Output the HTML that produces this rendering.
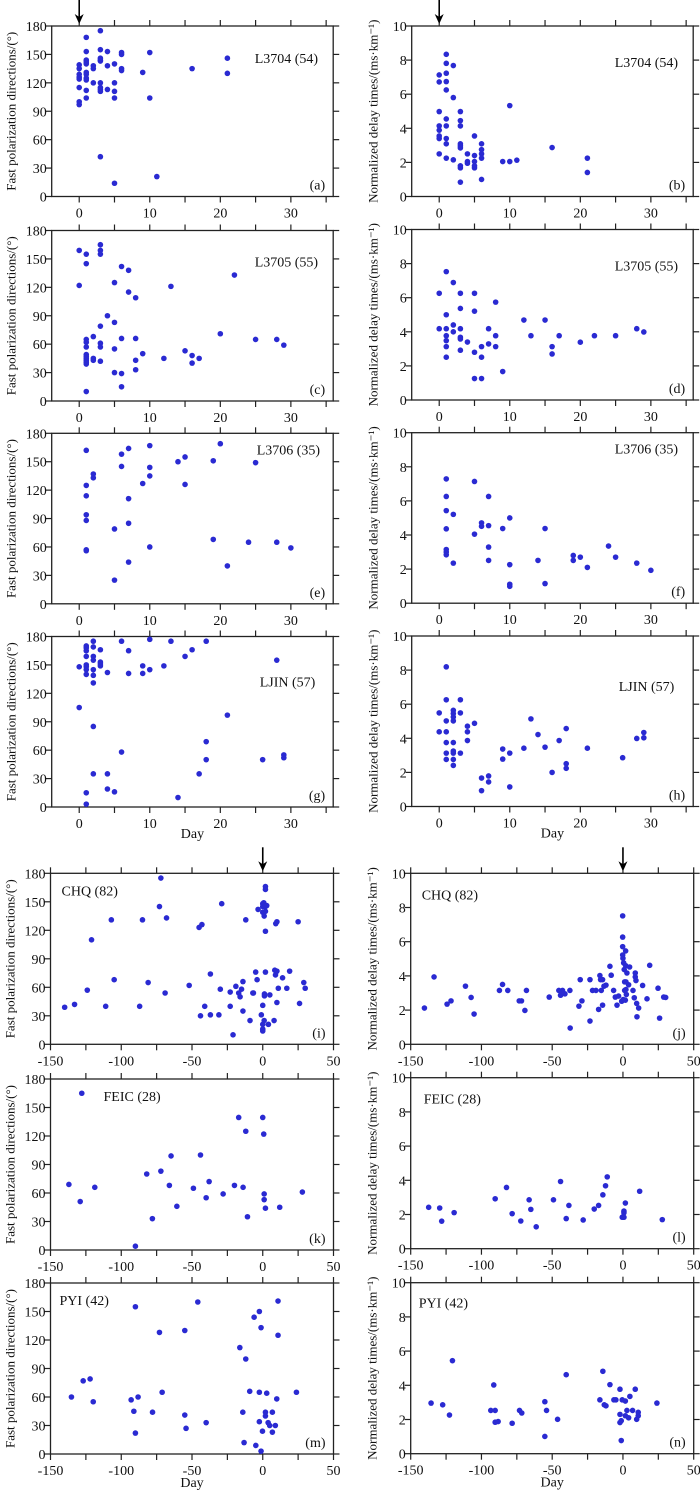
<!DOCTYPE html>
<html><head><meta charset="utf-8"><title>Shear-wave splitting time series</title>
<style>
html,body{margin:0;padding:0;background:#fff;}
svg{display:block;font-family:"Liberation Serif",serif;}
</style></head>
<body>
<svg id="fig" width="700" height="1503" viewBox="0 0 700 1503" xmlns="http://www.w3.org/2000/svg"></svg>
<script>
// ---------- data (day, value) ----------
const aX=[0,0,0,0,0,0,0,0,1,1,1,1,1,1,1,1,1,1,1,2,2,2,3,3,3,3,3,3,3,3,3,3,4,4,4,5,5,5,5,5,6,6,6,6,9,10,10,11,16,21,21];
const aY=[139,135,129,126,124,115,100,97,168,153,144,142,140,131,129,125,123,112,104,138,135,120,175,155,146,144,143,120,115,113,111,42,153,138,113,140,120,111,104,14,152,150,135,133,131,152,104,21,135,146,130];
const bX=[0,0,0,0,0,0,0,0,1,1,1,1,1,1,1,1,1,1,2,2,2,3,3,3,3,3,3,3,3,3,4,4,4,5,5,5,5,5,6,6,6,6,6,9,10,10,11,16,21,21];
const bY=[7.13,6.72,4.98,4.14,3.89,3.55,3.4,2.5,8.34,7.81,7.23,6.74,6.25,4.55,4.14,3.4,3.09,2.25,7.68,5.8,2.15,4.98,4.45,4.14,3.09,2.97,2.85,1.8,1.68,0.84,2.5,2.05,1.95,3.55,2.4,2.05,1.8,1.68,3.09,2.75,2.5,2.25,1.0,2.05,5.33,2.05,2.13,2.87,2.25,1.41];
const cX=[0,0,1,1,1,1,1,1,1,1,1,1,1,1,2,2,2,3,3,3,3,3,3,3,4,5,5,5,5,6,6,6,6,7,7,8,8,8,8,9,12,13,15,16,16,17,20,22,25,28,29];
const cY=[159,122,155,145,65,62,57,49,47,45,43,41,39,10,68,45,43,165,159,155,79,61,57,42,90,125,83,55,30,142,66,29,15,138,115,109,66,43,33,50,45,121,53,48,40,45,71,133,65,65,59];
const dX=[0,0,1,1,1,1,1,1,1,2,2,2,3,3,3,3,3,3,4,5,5,5,5,6,6,6,7,7,8,8,8,9,12,13,15,16,16,17,20,22,25,28,29];
const dY=[6.26,4.18,7.53,5.0,4.18,3.77,3.48,3.13,2.51,6.89,4.4,4.0,6.26,5.37,4.18,3.68,3.58,2.92,3.4,6.26,5.21,2.8,1.26,3.13,2.51,1.26,4.18,3.29,5.74,3.77,3.13,1.67,4.69,3.77,4.69,3.13,2.7,3.77,3.39,3.77,3.77,4.18,3.99];
const eX=[1,1,1,1,1,1,1,2,2,5,5,6,6,7,7,7,7,9,10,10,10,10,14,15,15,19,19,20,21,24,25,28,30];
const eY=[162,125,114,94,88,57,56,137,133,79,25,158,145,164,111,85,44,127,167,144,135,60,150,155,126,151,68,169,40,65,149,65,59];
const fX=[1,1,1,1,1,1,1,2,2,5,5,6,6,7,7,7,7,9,10,10,10,10,14,15,15,19,19,20,21,24,25,28,30];
const fY=[7.29,6.26,5.43,4.36,3.15,3.0,2.84,5.21,2.35,7.14,4.05,4.71,4.51,6.26,4.55,3.29,2.51,4.38,5.0,2.26,1.11,0.99,2.51,4.38,1.15,2.8,2.51,2.7,2.1,3.35,2.7,2.35,1.93];
const gX=[0,0,1,1,1,1,1,1,1,1,1,1,2,2,2,2,2,2,2,2,2,3,3,3,3,4,4,4,5,6,6,7,7,9,9,10,10,12,13,14,15,16,17,18,18,18,21,26,28,29,29];
const gY=[148,105,170,168,165,159,150,148,145,140,15,3,175,169,159,155,145,139,131,85,35,166,153,151,149,142,35,19,16,175,58,165,141,149,141,177,145,149,175,10,159,166,35,175,69,50,97,50,155,55,52];
const hX=[0,0,1,1,1,1,1,1,1,2,2,2,2,2,2,2,2,2,3,3,3,4,4,4,5,6,6,7,7,9,9,10,10,12,13,14,15,16,17,18,18,18,21,26,28,29,29];
const hY=[5.49,4.38,8.19,6.26,5.02,4.38,3.75,3.13,2.76,5.64,5.45,5.25,5.02,3.75,3.25,3.13,2.76,2.41,6.26,5.49,3.13,4.71,4.38,3.87,4.88,1.67,0.93,1.79,1.44,3.37,2.78,3.13,1.15,3.42,5.14,4.22,3.48,2.0,3.87,4.57,2.51,2.24,3.42,2.86,3.99,4.34,4.03];
const iX=[-140,-133,-124,-121,-111,-107,-105,-87,-85,-81,-72,-73,-69,-68,-52,-45,-43,-41,-37,-30,-29,-23,-23,-19,-17,-16,-15,-14,-12,-7,-6.6,-5,-4,-3.3,0,0,0,0,0.7,1,1.2,1.2,1.9,1.9,1.9,1.9,1.9,1.9,2.8,5,8.5,9,9.2,10,10,11,10,14,17,19,25,26,29,30,-44,-37,-31,-21,-9,-14,-1,0,0,0,1,4,8];
const iY=[39,42,57,110,40,131,68,40,131,65,175,145,54,133,62,123,126,40,74,58,148,40,55,61,54,50,58,66,131,54,54,76,68,142,148,145,139,41,149,135,51,53,166,163,145,140,119,76,146,52,78,73,127,129,44,59,77,70,59,77,129,43,65,59,30,31,31,10,25,35,31,21,14,16,25,21,25];
const jX=[-140.3,-133.5,-124.3,-121.5,-111.3,-107.3,-105.2,-87.3,-85.1,-81.4,-73.3,-71.7,-69.3,-68.2,-52.1,-45.3,-44.1,-42.7,-41,-37.5,-37.3,-31.1,-30.2,-29,-23.3,-23.3,-21.5,-19.1,-17.2,-16.3,-15.8,-15.3,-14.4,-14.4,-13.4,-12,-9.2,-8.3,-6.6,-5.4,-4.2,-3.1,-0.9,-0.2,-0.2,-0.2,-0.2,0,0.5,0.9,1.2,1.2,1.7,1.9,1.9,2.1,2.1,2.4,2.8,4,4.7,7.1,8,8.7,8.7,9.2,9.7,9.9,11.1,13.9,17,18.9,24.8,25.9,28.8,30.2,0.2];
const jY=[2.12,3.94,2.35,2.54,3.4,2.74,1.77,3.15,3.5,3.15,2.54,2.54,1.98,3.15,2.76,3.15,2.87,3.15,2.95,3.15,0.95,2.23,3.78,2.54,3.78,1.36,3.15,3.15,2.04,4.02,3.78,3.15,2.29,3.78,3.4,3.46,4.56,4.04,3.15,2.76,2.29,2.82,2.52,7.51,6.27,5.71,5.22,5.03,4.76,4.37,3.65,3.15,2.58,5.46,4.6,3.65,3.2,2.91,4.17,3.48,4.52,3.15,2.72,4.17,3.94,3.73,2.39,1.61,2.12,3.44,2.66,4.62,3.28,1.53,2.76,2.74,2.62];
const kX=[-127.9,-137,-129,-118.7,-90,-82,-78,-72,-66,-64.8,-60.7,-49,-44,-40,-37.9,-28,-20,-17,-13.9,-12,-10.8,0,0.7,1,1,1.9,12,28];
const kY=[165,69,51,66,4,80,33,83,68,99,46,65,100,55,72,59,68,139.5,66,125,35,139.5,122,59,53,44,45,61];
const lX=[-137.3,-129.5,-128.1,-119.3,-90.3,-82.3,-78.3,-72.2,-66.3,-65.1,-61.3,-49.1,-44.1,-40.1,-38.2,-28.1,-20.3,-17.2,-14.2,-12.3,-11.1,-0.5,0.7,0.7,0.7,1.7,11.8,27.8];
const lY=[2.42,2.38,1.61,2.11,2.92,3.58,2.05,1.62,2.86,2.3,1.28,2.86,3.93,1.76,2.53,1.68,2.32,2.53,3.15,3.68,4.2,1.84,1.84,2.2,2.1,2.67,3.36,1.7];
const mX=[-135.2,-126.9,-122,-119.8,-93,-91.1,-90,-90,-88.1,-77.9,-73,-71.1,-55.1,-55.1,-54.2,-45.9,-40,-16.2,-14.1,-13.2,-12,-9.2,-6.1,-4.9,-2.4,-2.4,-2.4,-1.2,-1.2,-0.2,1.9,1.9,2.8,3.8,4.9,6.8,6.8,8.9,9.9,10.8,10.8,23.8];
const mY=[60,77,79,55,57,45,155,22,60,44,128,65,130,41,27,160,33,112,44,12,100,66,144,9,150,65,34,133,3,24,44,40,64,33,30,44,23,30,58,161,125,65];
const nX=[-135.6,-127.4,-122.6,-120.5,-93.4,-91.3,-90.3,-90.3,-88.2,-78.3,-73.1,-71.5,-55.2,-55.2,-54,-46.2,-40.1,-16.3,-14.2,-13.2,-12,-9.2,-6.4,-5,-2.1,-2.1,-2.1,-1.2,-1.2,-0.5,1.7,1.7,2.8,4,4.9,6.8,8.7,9.7,10.8,10.8,24];
const nY=[2.96,2.86,2.26,5.44,2.53,4.02,2.53,1.84,1.88,1.78,2.53,2.38,3.04,1.01,2.53,2.01,4.62,3.15,4.82,2.86,2.8,4.04,3.15,3.15,3.77,2.3,1.82,1.93,0.77,3.15,3.08,2.22,2.53,2.1,3.35,2.53,3.77,2.01,2.42,2.22,2.96];
// ---------- axis definitions ----------
const upperXTicks=[0,5,10,15,20,25,30,35];
const upperXLabels=[0,10,20,30];
const lowerXTicks=[-150,-125,-100,-75,-50,-25,0,25,50];
const lowerXLabels=[-150,-100,-50,0,50];
const phiTicks=[0,30,60,90,120,150,180];
const dtTicks=[0,2,4,6,8,10];

const NS="http://www.w3.org/2000/svg";
const svg=document.getElementById('fig');
function mk(tag,attrs,parent){const e=document.createElementNS(NS,tag);for(const k in attrs)e.setAttribute(k,attrs[k]);(parent||svg).appendChild(e);return e;}

function panel(p){
  const g=mk('g',{});
  
  
  const L=p.left,T=p.top,W=p.w,H=p.h;
  const sx=v=>L+(v-p.xmin)/(p.xmax-p.xmin)*W;
  const sy=v=>T+H-(v-p.ymin)/(p.ymax-p.ymin)*H;
  const frame=mk('rect',{x:L,y:T,width:W,height:H,fill:'none',stroke:'#222','stroke-width':1.3},g);
  
  
  const tk=6;
  p.xticks.forEach(v=>{const x=sx(v);
    mk('line',{x1:x,y1:T+H,x2:x,y2:T+H+tk,stroke:'#222','stroke-width':1.2},g);
    mk('line',{x1:x,y1:T,x2:x,y2:T-tk,stroke:'#222','stroke-width':1.2},g);});
  p.yticks.forEach(v=>{const y=sy(v);
    mk('line',{x1:L,y1:y,x2:L-tk,y2:y,stroke:'#222','stroke-width':1.2},g);
    mk('line',{x1:L+W,y1:y,x2:L+W+tk,y2:y,stroke:'#222','stroke-width':1.2},g);
    const t=mk('text',{x:L-5,y:y+5,'text-anchor':'end','font-size':14,fill:'#111'},g);t.textContent=v;
    
    });
  if(p.showX){p.xlabels.forEach(v=>{const t=mk('text',{x:sx(v),y:T+H+21,'text-anchor':'middle','font-size':14,fill:'#111'},g);t.textContent=v;
    
    });}
  const cx=L-36-(p.titleOff||0), cy=T+H/2;
  const yt=mk('text',{x:cx,y:cy,'text-anchor':'middle','font-size':13,fill:'#111',transform:`rotate(-90 ${cx} ${cy})`},g);
  yt.textContent=p.ytitle;
  
  
  const st=mk('text',{x:L+p.sdx,y:T+p.sdy,'font-size':14,fill:'#111'},g);st.textContent=p.station;
  
  
  const lt=mk('text',{x:L+W-8,y:T+H-7,'text-anchor':'end','font-size':14,fill:'#111'},g);lt.textContent='('+p.letter+')';
  
  
  if(p.day){const d=mk('text',{x:L+W/2,y:T+H+p.day,'text-anchor':'middle','font-size':14,fill:'#111'},g);d.textContent='Day';
    
    }
  if(p.arrow){const x=sx(0);
    const a=mk('g',{},g);
    
    
    mk('line',{x1:x,y1:T-26,x2:x,y2:T-6,stroke:'#000','stroke-width':1.6},a);
    mk('path',{d:`M${x-4.5},${T-12} L${x},${T-2} L${x+4.5},${T-12} L${x},${T-9} Z`,fill:'#000'},a);}
  p.xs.forEach((xv,i)=>{const c=mk('circle',{cx:sx(xv),cy:sy(p.ys[i]),r:2.8,fill:'#2a2ad2'},g);
    
    });
}
const PHI='Fast polarization directions/(°)';
const DT='Normalized delay times/(ms·km⁻¹)';
const up=(l,t,o)=>Object.assign({left:l,top:t,w:281.5,h:170.5,xmin:-3.9,xmax:36,xticks:upperXTicks,xlabels:upperXLabels,showX:true},o);
const lo=(l,t,o)=>Object.assign({left:l,top:t,w:283,h:171,xmin:-150,xmax:50,xticks:lowerXTicks,xlabels:lowerXLabels,showX:true},o);
const phi={ymin:0,ymax:180,yticks:phiTicks,ytitle:PHI};
const dt={ymin:0,ymax:10,yticks:dtTicks,ytitle:DT,titleOff:-2};
panel(up(51.7,26,Object.assign({},phi,{letter:'a',station:'L3704 (54)',sdx:203,sdy:37,xs:aX,ys:aY,arrow:true})));
panel(up(411.7,26,Object.assign({},dt,{letter:'b',station:'L3704 (54)',sdx:203,sdy:41,xs:bX,ys:bY,arrow:true})));
panel(up(51.7,230.5,Object.assign({},phi,{letter:'c',station:'L3705 (55)',sdx:203,sdy:36,xs:cX,ys:cY})));
panel(up(411.7,229.5,Object.assign({},dt,{letter:'d',station:'L3705 (55)',sdx:203,sdy:41,xs:dX,ys:dY})));
panel(up(51.7,433.3,Object.assign({},phi,{letter:'e',station:'L3706 (35)',sdx:205,sdy:21,xs:eX,ys:eY})));
panel(up(411.7,432.7,Object.assign({},dt,{letter:'f',station:'L3706 (35)',sdx:203,sdy:21,xs:fX,ys:fY})));
panel(up(51.7,636.5,Object.assign({},phi,{letter:'g',station:'LJIN (57)',sdx:208,sdy:50,xs:gX,ys:gY,day:31})));
panel(up(411.7,636,Object.assign({},dt,{letter:'h',station:'LJIN (57)',sdx:207,sdy:55,xs:hX,ys:hY,day:31})));
panel(lo(50.5,873.3,Object.assign({},phi,{letter:'i',station:'CHQ (82)',sdx:11,sdy:22,xs:iX,ys:iY,arrow:true})));
panel(lo(410.7,873.3,Object.assign({},dt,{letter:'j',station:'CHQ (82)',sdx:11,sdy:26,xs:jX,ys:jY,arrow:true})));
panel(lo(50.5,1079,Object.assign({},phi,{letter:'k',station:'FEIC (28)',sdx:53,sdy:22,xs:kX,ys:kY})));
panel(lo(410.7,1077.7,Object.assign({},dt,{letter:'l',station:'FEIC (28)',sdx:13,sdy:26,xs:lX,ys:lY})));
panel(lo(50.5,1283,Object.assign({},phi,{letter:'m',station:'PYI (42)',sdx:9,sdy:22,xs:mX,ys:mY,day:33})));
panel(lo(410.7,1282.7,Object.assign({},dt,{letter:'n',station:'PYI (42)',sdx:8,sdy:25,xs:nX,ys:nY,day:33})));
</script>
</body></html>
